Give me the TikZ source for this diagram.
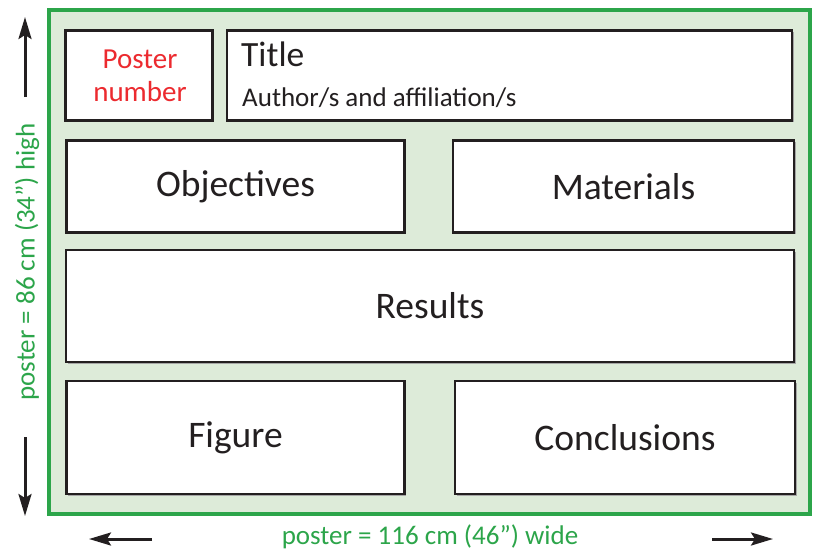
\documentclass[tikz,border=0pt]{standalone}
\usepackage{fontspec}
\setmainfont{Carlito}
\usetikzlibrary{arrows.meta,shadows}
\definecolor{pgreen}{HTML}{2CA54A}
\definecolor{pfill}{HTML}{DDEBD9}
\definecolor{pdark}{HTML}{231F20}
\definecolor{pred}{HTML}{EC2A2F}
\tikzset{
  box/.style={draw=pdark, line width=2.2pt, fill=white, inner sep=0pt,
    drop shadow={shadow xshift=1.6pt, shadow yshift=-1.6pt, fill=black!35, opacity=1},
    text=pdark, font=\fontsize{37.5}{42}\selectfont},
  big/.style={font=\fontsize{35.5}{40}\selectfont, text=pdark, inner sep=0pt},
  small/.style={font=\fontsize{29}{32}\selectfont, text=pdark, inner sep=0pt},
  dim/.style={font=\fontsize{27}{30}\selectfont, text=pgreen, inner sep=0pt},
  arr/.style={draw=pdark, line width=3pt, -{Stealth[length=22pt,width=13pt,inset=4pt]}}
}
\begin{document}
\begin{tikzpicture}[x=1pt,y=-1pt]
\useasboundingbox (0,0) rectangle (815,550);
% poster frame
\node[draw=pgreen, fill=pfill, line width=3.6pt, minimum width=761pt, minimum height=504pt, inner sep=0pt] (frame) at (429.5,262) {};
% boxes
\node[box, minimum width=147pt, minimum height=90pt] (num) at (139,75.5) {};
\node[box, minimum width=565pt, minimum height=90pt] (title) at (509.5,75.5) {};
\node[box, minimum width=338pt, minimum height=92pt] (obj) at (235.5,186.5) {Objectives};
\node[box, minimum width=341pt, minimum height=92pt] (mat) at (623.5,186.5) {Materials};
\node[box, minimum width=728pt, minimum height=112pt] (res) at (430,306) {Results};
\node[box, minimum width=338pt, minimum height=113pt] (fig) at (235.5,437.5) {Figure};
\node[box, minimum width=340pt, minimum height=113pt] (con) at (625,437.5) {Conclusions};
% texts in top boxes
\node[small, text=pred, anchor=base] (pn1) at (140,68) {Poster};
\node[small, text=pred, anchor=base] (pn2) at (140,101) {number};
\node[big, anchor=base west] (tt) at (241,66) {Title};
\node[font=\fontsize{27}{30}\selectfont, text=pdark, inner sep=0pt, anchor=base west] (au) at (242,106) {Author/s and affiliation/s};
% dimension labels
\node[dim, rotate=90] (hlab) at (27,262) {poster = 86 cm (34”) high};
\node[dim, anchor=base] (wlab) at (430,544) {poster = 116 cm (46”) wide};
% arrows
\coordinate (u1) at (25,97);
\coordinate (u2) at (25,17);
\coordinate (d1) at (25,437);
\coordinate (d2) at (25,516);
\coordinate (l1) at (152,539);
\coordinate (l2) at (89,539);
\coordinate (r1) at (712,539);
\coordinate (r2) at (773,539);
\draw[arr] (u1) -- (u2);
\draw[arr] (d1) -- (d2);
\draw[arr] (l1) -- (l2);
\draw[arr] (r1) -- (r2);
\end{tikzpicture}
\end{document}
